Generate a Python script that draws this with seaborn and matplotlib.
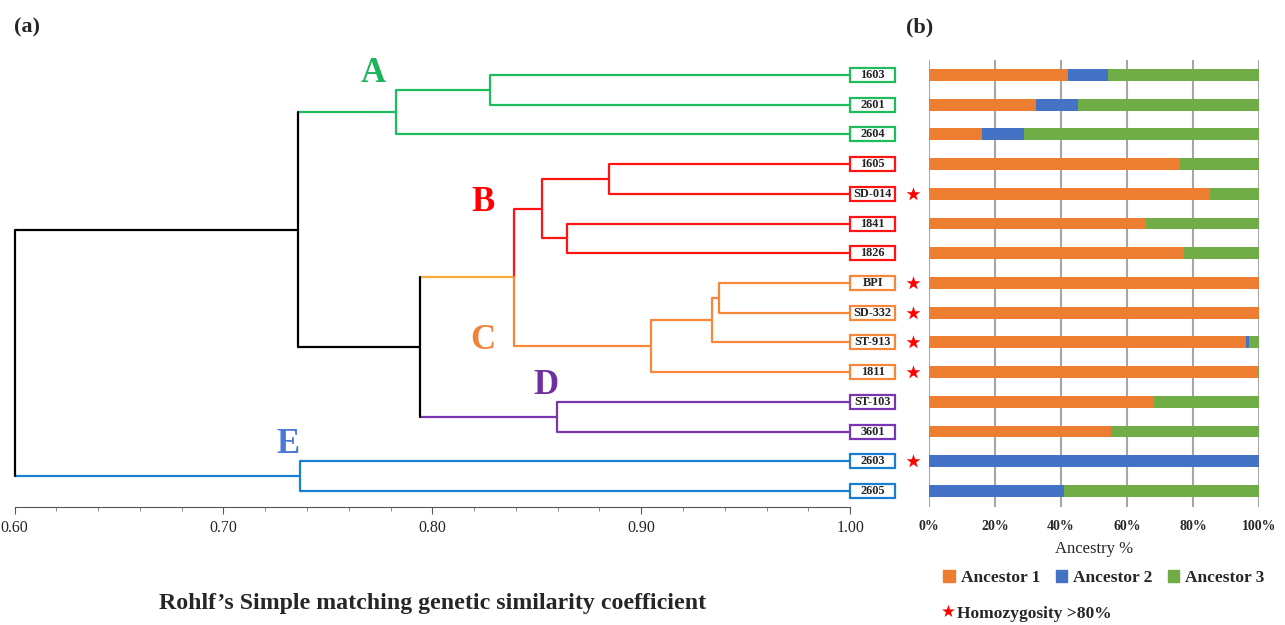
import matplotlib
matplotlib.use("Agg")
import matplotlib.pyplot as plt
from matplotlib.patches import Patch, Rectangle
from matplotlib.ticker import FixedLocator, FuncFormatter
import numpy as np
import pandas as pd
import seaborn as sns

# ---- data ----
leaves = ['1603', '2601', '2604', '1605', 'SD-014', '1841', '1826', 'BPI',
          'SD-332', 'ST-913', '1811', 'ST-103', '3601', '2603', '2605']
leaf_group = ['A', 'A', 'A', 'B', 'B', 'B', 'B', 'C', 'C', 'C', 'C', 'D', 'D', 'E', 'E']

# UPGMA merges: node name, left child, right child, similarity
merge_names = ['a1', 'A', 'b1', 'b2', 'B', 'c2', 'c1', 'C', 'BC', 'D', 'CD', 'ABCD', 'E', 'root']
merge_left = ['1603', 'a1', '1605', '1841', 'b1', 'BPI', 'c2', 'c1', 'B', 'ST-103', 'BC', 'A', '2603', 'ABCD']
merge_right = ['2601', '2604', 'SD-014', '1826', 'b2', 'SD-332', 'ST-913', '1811', 'C', '3601', 'D', 'CD', '2605', 'E']
merge_sim = [0.8276, 0.7826, 0.8848, 0.8645, 0.8525, 0.9372, 0.9341, 0.9047,
             0.8391, 0.8599, 0.7941, 0.7357, 0.7369, 0.60]

# ancestry proportions (%)
ancestor1 = [42.0, 32.5, 16.0, 76.0, 85.0, 65.8, 77.4, 100.0, 100.0, 96.0, 99.8, 68.2, 55.2, 0.0, 0.0]
ancestor2 = [12.2, 12.7, 12.7, 0.0, 0.0, 0.0, 0.0, 0.0, 0.0, 1.0, 0.0, 0.0, 0.0, 100.0, 40.8]
ancestor3 = [45.8, 54.8, 71.3, 24.0, 15.0, 34.2, 22.6, 0.0, 0.0, 3.0, 0.2, 31.8, 44.8, 0.0, 59.2]
homozygous = [0, 0, 0, 0, 1, 0, 0, 1, 1, 1, 1, 0, 0, 1, 0]

group_letters = ['A', 'B', 'C', 'D', 'E']
group_label_x = [0.7716, 0.8243, 0.8243, 0.8544, 0.7309]
group_label_y = [-0.05, 4.28, 8.95, 10.45, 12.45]

# ---- styling ----
group_colors = {'A': '#1dbd5c', 'B': '#ff1414', 'C': '#f7883a', 'D': '#7a35b0', 'E': '#1a7fd4'}
letter_colors = {'A': '#1fb35c', 'B': '#ff0000', 'C': '#f0823a', 'D': '#7030a0', 'E': '#4a78d4'}
node_override = {'BC': '#f9aa3c', 'CD': 'black', 'ABCD': 'black', 'root': 'black'}
split_nodes = ['BC']
c_anc1, c_anc2, c_anc3 = '#ed7d31', '#4472c4', '#70ad47'

sns.set_style("white")
plt.rcParams['font.family'] = ['Liberation Serif', 'DejaVu Serif']

W, H = 1285, 625
fig = plt.figure(figsize=(W / 100, H / 100), dpi=100)

# pixel geometry of the reference
row0, row_step = 75.0, 29.71
px_per_unit = 2089.0
x0_px = 14.5
ax_bottom_px = 507

def ydata(py):
    return (py - row0) / row_step

# ---- (a) dendrogram ----
ax = fig.add_axes([0, (H - ax_bottom_px) / H, 900 / W, (ax_bottom_px - 40) / H])
ax.set_xlim(0.60 - x0_px / px_per_unit, 0.60 + (900 - x0_px) / px_per_unit)
ax.set_ylim(ydata(ax_bottom_px), ydata(40))

ypos = {n: i for i, n in enumerate(leaves)}
xpos = {n: 1.0 for n in leaves}
color = {n: group_colors[g] for n, g in zip(leaves, leaf_group)}
lw = 1.6
for name, l, r, s in zip(merge_names, merge_left, merge_right, merge_sim):
    ypos[name] = (ypos[l] + ypos[r]) / 2
    xpos[name] = s
    if name in node_override:
        color[name] = node_override[name]
    else:
        color[name] = color[l]
    for ch in (l, r):
        ax.plot([s, xpos[ch]], [ypos[ch], ypos[ch]], color=color[ch], lw=lw,
                solid_capstyle='butt', zorder=2)
    if name in split_nodes:
        ax.plot([s, s], [ypos[l], ypos[name]], color=color[l], lw=lw, zorder=3)
        ax.plot([s, s], [ypos[name], ypos[r]], color=color[r], lw=lw, zorder=3)
    else:
        ax.plot([s, s], [ypos[l], ypos[r]], color=color[name], lw=lw, zorder=3)

# leaf label boxes
box_w = 45 / px_per_unit
box_h = 14 / row_step
for i, (n, g) in enumerate(zip(leaves, leaf_group)):
    ax.add_patch(Rectangle((1.0, i - box_h / 2), box_w, box_h, facecolor='white',
                           edgecolor=group_colors[g], lw=1.6, zorder=4))
    ax.text(1.0 + box_w / 2, i, n, ha='center', va='center', fontsize=8.8,
            fontweight='bold', color='#222222', zorder=5)

for g, gx, gy in zip(group_letters, group_label_x, group_label_y):
    ax.text(gx, gy, g, ha='center', va='center', fontsize=25, fontweight='bold',
            color=letter_colors[g])

for sp in ['top', 'right', 'left']:
    ax.spines[sp].set_visible(False)
ax.spines['bottom'].set_bounds(0.60, 1.00)
ax.spines['bottom'].set_color('#555555')
ax.set_xticks([0.60, 0.70, 0.80, 0.90, 1.00])
ax.xaxis.set_minor_locator(FixedLocator(np.arange(0.62, 0.995, 0.02)))
ax.xaxis.set_major_formatter(FuncFormatter(lambda v, p: f"{v:.2f}"))
ax.tick_params(axis='x', which='major', length=5, color='#555555', labelsize=11.5, pad=4)
ax.tick_params(axis='x', which='minor', length=3, color='#777777')
ax.xaxis.set_ticks_position('bottom')
ax.set_yticks([])
ax.set_facecolor('none')

fig.text(433 / W, 1 - 603 / H, "Rohlf\u2019s Simple matching genetic similarity coefficient",
         ha='center', va='center', fontsize=17.2, fontweight='bold')
fig.text(14 / W, 1 - 27 / H, "(a)", ha='left', va='center', fontsize=16, fontweight='bold')
fig.text(906 / W, 1 - 27 / H, "(b)", ha='left', va='center', fontsize=16, fontweight='bold')

# ---- (b) stacked ancestry bars ----
ax2 = fig.add_axes([929 / W, (H - ax_bottom_px) / H, 330 / W, (ax_bottom_px - 60) / H])
df = pd.DataFrame({'line': leaves, 'a1': ancestor1, 'a2': ancestor2, 'a3': ancestor3})
df['cum2'] = df['a1'] + df['a2']
df['cum3'] = df['cum2'] + df['a3']
bar_kw = dict(data=df, y='line', saturation=1, width=0.4, orient='h', ax=ax2,
              linewidth=0, edgecolor='none', zorder=3)
sns.barplot(x='cum3', color=c_anc3, **bar_kw)
sns.barplot(x='cum2', color=c_anc2, **bar_kw)
sns.barplot(x='a1', color=c_anc1, **bar_kw)
ax2.set_xlim(0, 100)
ax2.set_ylim(ydata(ax_bottom_px), ydata(60))
ax2.set_xticks(range(0, 101, 20))
ax2.xaxis.set_major_formatter(FuncFormatter(lambda v, p: f"{v:.0f}%"))
ax2.tick_params(axis='x', length=0, labelsize=10, pad=9)
for lab in ax2.get_xticklabels():
    lab.set_fontweight('bold')
ax2.set_yticks([])
ax2.set_ylabel('')
ax2.set_xlabel('Ancestry %', fontsize=12, labelpad=6)
ax2.grid(axis='x', color='#a6a6a6', lw=1.5, zorder=0)
ax2.set_axisbelow(True)
for sp in ax2.spines.values():
    sp.set_visible(False)

star_rows = [i for i, h in enumerate(homozygous) if h]
ax2.scatter([-4.85] * len(star_rows), star_rows, marker='*', s=110, color='red',
            clip_on=False, zorder=5, linewidths=0)

handles = [Patch(color=c_anc1, label='Ancestor 1'),
           Patch(color=c_anc2, label='Ancestor 2'),
           Patch(color=c_anc3, label='Ancestor 3')]
fig.legend(handles=handles, loc='center', bbox_to_anchor=(1104 / W, 1 - 578 / H), ncol=3,
           frameon=False, handlelength=0.65, handleheight=0.65, handletextpad=0.35,
           columnspacing=0.9, prop={'weight': 'bold', 'size': 12.5})
fig.text(948 / W, 1 - 612 / H, "\u2605", ha='center', va='center', color='red',
         fontsize=12, family=['DejaVu Sans'])
fig.text(957 / W, 1 - 614 / H, "Homozygosity >80%", ha='left', va='center',
         fontsize=12.5, fontweight='bold')

fig.savefig('out.png', dpi=100)
